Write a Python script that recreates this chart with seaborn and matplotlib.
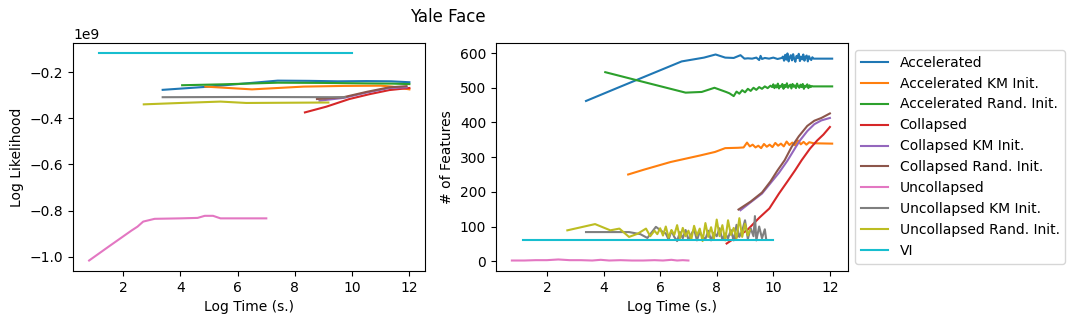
# -*- coding: utf-8 -*-
"""
Yale Face: log likelihood and number of features against log time
"""

import pandas as pd
import matplotlib
matplotlib.use("Agg")
import matplotlib.pyplot as plt
import seaborn as sns

methods = ["Accelerated", "Accelerated KM Init.", "Accelerated Rand. Init.",
           "Collapsed", "Collapsed KM Init.", "Collapsed Rand. Init.",
           "Uncollapsed", "Uncollapsed KM Init.", "Uncollapsed Rand. Init.",
           "VI"]

# log likelihood (units of 1e9) against log time
acc_ll_t = [3.38, 4.9, 7.4, 8.5, 9.5, 10.5, 11.36, 12.0]
acc_ll = [-0.276, -0.263, -0.236, -0.237, -0.239, -0.238, -0.239, -0.243]
acckm_ll_t = [4.87, 6.5, 8.3, 9.7, 11.0, 11.4, 12.0]
acckm_ll = [-0.262, -0.274, -0.262, -0.259, -0.258, -0.262, -0.274]
accr_ll_t = [4.06, 5.5, 7.4, 9.0, 10.5, 11.4, 12.0]
accr_ll = [-0.256, -0.252, -0.245, -0.246, -0.248, -0.249, -0.251]
col_ll_t = [8.35, 9.1, 9.9, 10.6, 11.3, 12.0]
col_ll = [-0.374, -0.349, -0.316, -0.295, -0.277, -0.268]
colkm_ll_t = [8.86, 9.7, 10.5, 11.3, 11.9]
colkm_ll = [-0.323, -0.311, -0.288, -0.268, -0.265]
colr_ll_t = [8.77, 9.7, 10.5, 11.3, 11.9]
colr_ll = [-0.316, -0.308, -0.285, -0.265, -0.260]
unc_ll_t = [0.81, 1.5, 2.29, 2.5, 2.7, 3.1, 4.0, 4.6, 4.85, 5.14, 5.4, 7.0]
unc_ll = [-1.017, -0.956, -0.887, -0.87, -0.848, -0.836, -0.834, -0.832,
          -0.823, -0.823, -0.834, -0.834]
unckm_ll_t = [3.38, 6.0, 9.75]
unckm_ll = [-0.308, -0.307, -0.308]
uncr_ll_t = [2.72, 4.0, 5.4, 6.3, 9.17]
uncr_ll = [-0.339, -0.333, -0.327, -0.333, -0.331]
vi_ll_t = [1.15, 10.0]
vi_ll = [-0.118, -0.118]

# number of features against log time
acc_t = [3.38, 4.5, 5.6, 6.76, 7.55, 7.96, 8.3, 8.6, 8.84, 8.98,
         9.1, 9.25, 9.4, 9.5, 9.55, 9.6, 9.7, 9.85, 10.0, 10.15, 10.3,
         10.34, 10.38, 10.42, 10.46, 10.5, 10.54, 10.58, 10.62, 10.66, 10.7,
         10.74, 10.78, 10.82, 10.86, 10.9, 10.94, 10.98, 11.02, 11.06, 11.1,
         11.14, 11.18, 11.22, 11.26, 11.3, 11.34, 11.38, 11.42, 12.08]
acc_f = [462, 500, 537, 576, 587, 596, 587, 586, 594, 584,
         585, 584, 587, 580, 592, 583, 586, 584, 587, 583, 586,
         590, 578, 595, 581, 599, 576, 588, 594, 579, 597,
         583, 575, 592, 586, 598, 577, 590, 582, 596, 578,
         589, 593, 576, 591, 584, 580, 588, 584, 584]
acckm_t = [4.87, 5.43, 6.37, 7.42, 7.94, 8.3, 8.75, 8.95, 9.07, 9.17,
           9.27, 9.37, 9.47, 9.57, 9.67, 9.77, 9.87, 9.97, 10.07, 10.17,
           10.27, 10.37, 10.47, 10.57, 10.67, 10.77, 10.87, 10.97, 11.07, 11.17,
           11.27, 11.43, 12.08]
acckm_f = [250, 264, 286, 305, 315, 326, 327, 328, 342, 331,
           336, 328, 333, 326, 338, 330, 336, 329, 341, 333,
           339, 331, 345, 335, 342, 334, 348, 337, 344, 336,
           343, 340, 339]
accr_t = [4.06, 5.5, 6.9, 7.47, 7.92, 8.33, 8.45, 8.6, 8.7, 8.8,
          8.9, 9.0, 9.1, 9.2, 9.3, 9.4, 9.5, 9.6, 9.7, 9.8, 9.9, 9.96,
          10.0, 10.04, 10.08, 10.12, 10.16, 10.2, 10.24, 10.28, 10.32, 10.36,
          10.4, 10.44, 10.48, 10.52, 10.56, 10.6, 10.64, 10.68, 10.72, 10.76,
          10.8, 10.84, 10.88, 10.92, 10.96, 11.0, 11.04, 11.08, 11.12, 11.16,
          11.2, 11.24, 11.28, 11.32, 11.36, 11.4, 12.08]
accr_f = [545, 515, 486, 488, 500, 488, 484, 476, 489, 483,
          493, 487, 497, 491, 500, 494, 502, 497, 504, 499, 506, 502,
          510, 499, 507, 501, 512, 498, 506, 503, 511, 497,
          508, 502, 513, 500, 505, 509, 498, 511, 503, 507,
          499, 512, 504, 500, 509, 502, 511, 497, 506, 503,
          510, 499, 507, 502, 505, 504, 504]
col_t = [8.35, 8.7, 9.07, 9.5, 9.86, 10.2, 10.5, 10.77, 11.0, 11.3,
         11.55, 11.77, 12.0]
col_f = [51, 70, 89, 125, 152, 195, 230, 262, 291, 325, 348, 365, 387]
colkm_t = [8.84, 9.2, 9.6, 9.9, 10.2, 10.5, 10.8, 10.95, 11.2, 11.45,
           11.7, 12.0]
colkm_f = [147, 170, 195, 225, 255, 290, 330, 349, 375, 395, 406, 413]
colr_t = [8.77, 9.2, 9.6, 9.9, 10.15, 10.4, 10.65, 10.9, 11.2, 11.45,
          11.7, 12.0]
colr_f = [149, 172, 198, 230, 262, 291, 330, 360, 390, 405, 413, 426]
unc_t = [0.76, 1.2, 1.6, 2.0, 2.4, 2.8, 3.2, 3.6, 3.9, 4.2,
         4.6, 5.0, 5.4, 5.8, 6.1, 6.4, 6.6, 6.8, 7.0]
unc_f = [2, 2, 3, 3, 5, 3, 3, 2, 4, 2, 3, 2, 2, 3, 2, 4, 2, 3, 2]
unckm_t = [3.38, 4.9, 5.3, 5.55, 5.85, 6.1,
           6.2, 6.3, 6.4, 6.5, 6.6, 6.7, 6.8, 6.9, 7.0, 7.1,
           7.2, 7.3, 7.4, 7.5, 7.6, 7.7, 7.8, 7.9, 8.0, 8.1,
           8.2, 8.3, 8.4, 8.5, 8.6, 8.7, 8.8, 8.9, 9.0, 9.1,
           9.2, 9.3, 9.35, 9.4, 9.5, 9.6, 9.7, 9.75]
unckm_f = [84, 84, 78, 67, 99, 84,
           80, 62, 88, 70, 58, 84, 66, 90, 62, 78,
           92, 60, 85, 70, 64, 88, 60, 82, 72, 95,
           62, 80, 66, 90, 60, 105, 70, 88, 118, 64,
           95, 72, 130, 60, 100, 66, 92, 62]
uncr_t = [2.72, 3.7, 4.24, 4.56, 4.9, 5.2, 5.5, 5.65, 5.8,
          5.9, 6.0, 6.1, 6.2, 6.3, 6.4, 6.5, 6.6, 6.7, 6.8,
          6.9, 7.0, 7.1, 7.2, 7.3, 7.4, 7.5, 7.6, 7.7, 7.8,
          7.9, 8.0, 8.1, 8.2, 8.3, 8.4, 8.5, 8.6, 8.7, 8.8,
          8.9, 9.0, 9.1, 9.17]
uncr_f = [89, 107, 89, 94, 70, 79, 94, 72, 88,
          78, 95, 74, 100, 68, 90, 76, 104, 66, 96,
          72, 88, 62, 102, 74, 94, 58, 110, 70, 98,
          64, 120, 72, 104, 60, 118, 76, 96, 66, 124,
          70, 108, 74, 90]
vi_t = [1.15, 10.0]
vi_f = [61, 61]

# build long tables
ll_runs = [(acc_ll_t, acc_ll), (acckm_ll_t, acckm_ll), (accr_ll_t, accr_ll),
           (col_ll_t, col_ll), (colkm_ll_t, colkm_ll), (colr_ll_t, colr_ll),
           (unc_ll_t, unc_ll), (unckm_ll_t, unckm_ll), (uncr_ll_t, uncr_ll),
           (vi_ll_t, vi_ll)]
feat_runs = [(acc_t, acc_f), (acckm_t, acckm_f), (accr_t, accr_f),
             (col_t, col_f), (colkm_t, colkm_f), (colr_t, colr_f),
             (unc_t, unc_f), (unckm_t, unckm_f), (uncr_t, uncr_f),
             (vi_t, vi_f)]

ll_df = pd.DataFrame(
    [(m, t, v * 1e9) for m, (ts, vs) in zip(methods, ll_runs)
     for t, v in zip(ts, vs)],
    columns=["method", "time", "ll"])
feat_df = pd.DataFrame(
    [(m, t, v) for m, (ts, vs) in zip(methods, feat_runs)
     for t, v in zip(ts, vs)],
    columns=["method", "time", "features"])

# create plot
fig, (ax1, ax2) = plt.subplots(1, 2, figsize=(10.75, 3.24), dpi=100)
fig.subplots_adjust(left=0.068, right=0.789, bottom=0.164, top=0.867,
                    wspace=0.2)

sns.lineplot(data=ll_df, x="time", y="ll", hue="method", hue_order=methods,
             palette="tab10", estimator=None, sort=False, legend=False,
             ax=ax1)
sns.lineplot(data=feat_df, x="time", y="features", hue="method",
             hue_order=methods, palette="tab10", estimator=None, sort=False,
             ax=ax2)

ax1.set(xlabel="Log Time (s.)", ylabel="Log Likelihood")
ax2.set(xlabel="Log Time (s.)", ylabel="# of Features")
for ax in (ax1, ax2):
    ax.set_xticks([2, 4, 6, 8, 10, 12])

sns.move_legend(ax2, "upper left", bbox_to_anchor=(1, 1), title=None)
fig.suptitle("Yale Face", x=0.417, y=0.975)

plt.savefig("out.png", dpi=100)
